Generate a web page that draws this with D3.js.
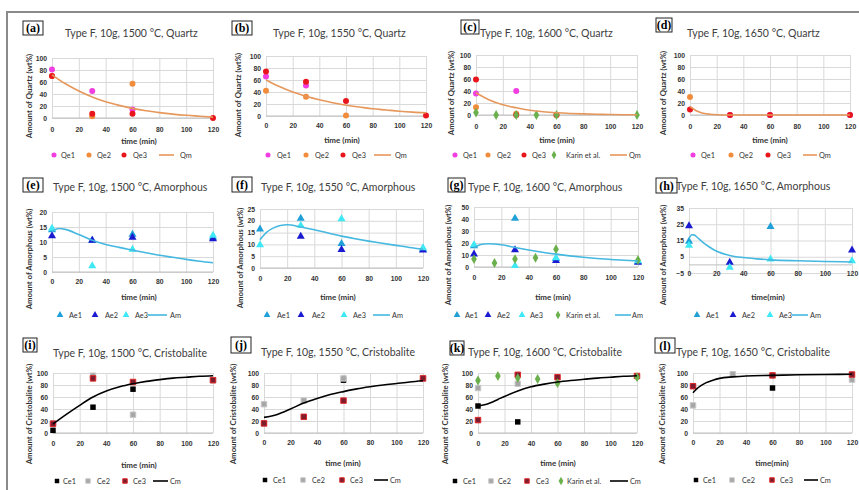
<!DOCTYPE html>
<html>
<head>
<meta charset="utf-8">
<script src="https://cdn.jsdelivr.net/npm/d3@7"></script>
<style>
  body { margin: 0; background: #fff; }
  svg { display: block; font-family: Lato, 'Liberation Sans', sans-serif; }
</style>
</head>
<body>
<script>
var width = 859;
var height = 490;

// x is always time (min)
var xTicks = [0, 20, 40, 60, 80, 100, 120];
var yTicks100 = [0, 20, 40, 60, 80, 100];
var yTicks20 = [0, 5, 10, 15, 20];
var yTicks25 = [0, 5, 10, 15, 20, 25];
var yTicks50 = [0, 10, 20, 30, 40, 50];
var yTicksH = [-5, 5, 15, 25, 35];

// (a) 1500 °C quartz
var aQe1 = [[0, 81], [30, 45], [60, 14]];
var aQe2 = [[0, 70], [30, 3], [60, 57]];
var aQe3 = [[0, 70], [30, 7], [60, 7], [120, 0]];
var aQm = [[0, 72], [10, 57], [20, 45], [30, 35], [40, 27], [50, 21], [60, 16], [70, 12], [80, 9], [90, 6.5], [100, 4.5], [110, 3], [120, 1.5]];

// (b) 1550 °C quartz
var bQe1 = [[0, 66], [30, 51]];
var bQe2 = [[0, 42], [30, 32], [60, 1]];
var bQe3 = [[0, 74], [30, 57], [60, 25], [120, 1]];
var bQm = [[0, 60], [10, 49], [20, 40], [30, 33], [40, 27], [50, 22], [60, 18], [70, 15], [80, 12], [90, 10], [100, 8], [110, 6.5], [120, 5.5]];

// (c) 1600 °C quartz
var cQe1 = [[0, 36], [30, 40]];
var cQe2 = [[0, 13], [30, 2], [60, 0]];
var cQe3 = [[0, 59], [30, 0], [60, 0]];
var cKarin = [[0, 4], [15, 0], [30, 0], [45, 0], [60, 0], [120, 0]];
var cQm = [[0, 37], [10, 25], [20, 17], [30, 12], [40, 8], [50, 5.5], [60, 3.8], [70, 2.6], [80, 1.8], [90, 1.2], [100, 0.8], [110, 0.5], [120, 0.3]];

// (d) 1650 °C quartz
var dQe1 = [[30, 0], [60, 0], [120, 0]];
var dQe2 = [[0, 30]];
var dQe3 = [[0, 9], [30, 0], [60, 0], [120, 0]];
var dQm = [[0, 14], [2, 11], [4, 8], [6, 6], [8, 4.3], [10, 3], [15, 1.3], [20, 0.5], [30, 0.1], [60, 0], [120, 0]];

// (e) 1500 °C amorphous
var eAe1 = [[0, 14], [30, 10.5], [60, 12.5], [120, 11.5]];
var eAe2 = [[0, 12], [30, 10.5], [60, 11.5], [120, 11]];
var eAe3 = [[0, 14.5], [30, 2], [60, 7.5], [120, 12.2]];
var eAm = [[0, 13.5], [5, 14.5], [10, 14.2], [20, 12.5], [30, 10.6], [40, 9.2], [50, 8.2], [60, 7.3], [70, 6.4], [80, 5.6], [90, 4.9], [100, 4.2], [110, 3.6], [120, 3.1]];

// (f) 1550 °C amorphous
var fAe1 = [[0, 16.5], [30, 21], [60, 10.3], [120, 8]];
var fAe2 = [[30, 13.4], [60, 7.8], [120, 7.5]];
var fAe3 = [[0, 9.8], [30, 18], [60, 20.8], [120, 8.5]];
var fAm = [[0, 12], [5, 15.2], [10, 17], [15, 18], [20, 18.3], [30, 17.4], [40, 16.2], [50, 14.8], [60, 13.5], [70, 12.4], [80, 11.4], [90, 10.5], [100, 9.6], [110, 8.7], [120, 8]];

// (g) 1600 °C amorphous
var gAe1 = [[0, 17.6], [30, 40.5], [60, 7], [120, 4.5]];
var gAe2 = [[0, 10.7], [30, 14.3], [60, 5.2], [120, 3.8]];
var gAe3 = [[0, 18.5], [30, 1], [60, 7.5], [120, 5]];
var gKarin = [[0, 6.6], [15, 3.3], [30, 6.6], [45, 7.7], [60, 14.8], [120, 5.8]];
var gAm = [[0, 16.2], [5, 18.8], [10, 19.4], [15, 19.2], [20, 18.5], [30, 16.3], [40, 14.2], [50, 12.3], [60, 10.7], [70, 9.3], [80, 8.1], [90, 7.1], [100, 6.3], [110, 5.6], [120, 5]];

// (h) 1650 °C amorphous
var hAe1 = [[0, 14.5], [60, 23.5]];
var hAe2 = [[0, 24], [30, 1.5], [120, 9]];
var hAe3 = [[0, 12], [30, -1.5], [60, 3.5], [120, 2.5]];
var hAm = [[0, 16], [2, 18.5], [4, 18.3], [6, 17], [10, 14], [15, 11], [20, 8.5], [30, 5.8], [40, 4.5], [50, 3.7], [60, 3.1], [80, 2.5], [100, 2.1], [120, 1.8]];

// (i) 1500 °C cristobalite
var iCe1 = [[0, 4.4], [30, 43], [60, 73]];
var iCe2 = [[0, 16], [30, 95.5], [60, 30.5], [120, 88]];
var iCe3 = [[0, 15.5], [30, 91], [60, 85], [120, 88]];
var iCm = [[0, 15], [10, 31], [20, 46], [30, 60], [40, 70], [50, 77], [60, 82], [70, 86], [80, 89], [90, 91.5], [100, 93], [110, 94.5], [120, 95.5]];

// (j) 1550 °C cristobalite
var jCe1 = [[0, 16], [30, 27], [60, 88]];
var jCe2 = [[0, 48], [30, 54], [60, 91], [120, 91]];
var jCe3 = [[0, 16], [30, 27], [60, 54], [120, 91]];
var jCm = [[0, 26], [10, 31], [20, 40], [30, 50], [40, 57.5], [50, 64], [60, 69], [70, 73.5], [80, 77], [90, 80], [100, 82.5], [110, 85], [120, 87]];

// (k) 1600 °C cristobalite
var kCe1 = [[0, 45], [30, 18.5]];
var kCe2 = [[0, 75], [30, 82]];
var kCe3 = [[0, 21.5], [30, 97], [60, 93], [120, 95]];
var kKarin = [[0, 87.5], [15, 95], [30, 91.5], [45, 90], [60, 83], [120, 93]];
var kCm = [[0, 45], [5, 47], [10, 51], [15, 56], [20, 61], [30, 70], [40, 77], [50, 81.5], [60, 85], [70, 87.5], [80, 89.5], [90, 91.5], [100, 93], [110, 94.5], [120, 95.5]];

// (l) 1650 °C cristobalite
var lCe1 = [[0, 78], [60, 75]];
var lCe2 = [[0, 46], [30, 98], [120, 89]];
var lCe3 = [[0, 78], [60, 96], [120, 97.5]];
var lCm = [[0, 67], [3, 74], [6, 79], [10, 84], [15, 88], [20, 91], [30, 93.5], [40, 95], [60, 96], [80, 97], [100, 97.5], [120, 98]];

var styles = {
  Qe1: {shape: d3.symbolCircle, fill: '#f03ee0'},
  Qe2: {shape: d3.symbolCircle, fill: '#f08c3c'},
  Qe3: {shape: d3.symbolCircle, fill: '#e8161c'},
  Ae1: {shape: d3.symbolTriangle, fill: '#1fa0d8'},
  Ae2: {shape: d3.symbolTriangle, fill: '#1a1ad0'},
  Ae3: {shape: d3.symbolTriangle, fill: '#3ee8f5'},
  Ce1: {shape: d3.symbolSquare, fill: '#000'},
  Ce2: {shape: d3.symbolSquare, fill: '#a6a6a6', stroke: '#c8c8c8'},
  Ce3: {shape: d3.symbolSquare, fill: '#7b1d2e', stroke: '#e02828'},
  Karin: {shape: d3.symbolDiamond, fill: '#6ab04c', label: 'Karin et al.'},
  Qm: {line: '#e6975b'},
  Am: {line: '#45b8e0'},
  Cm: {line: '#000'}
};

var panels = [
  {label: '(a)', box: [23, 21, 20, 14], title: 'Type F, 10g, 1500 °C, Quartz', titleX: 65, titleY: 33,
   px: [52, 213], py: [58, 118], ydom: [0, 100], yticks: yTicks100,
   ytitle: 'Amount of Quartz (wt%)', ytitleX: 29, ytitleY: 96,
   xlabelY: 130, xtitle: 'time (min)', xtitleX: 139, xtitleY: 141, legendY: 155,
   series: [['Qe1', aQe1], ['Qe2', aQe2], ['Qe3', aQe3]], model: ['Qm', aQm],
   legend: [['Qe1', 54, 61], ['Qe2', 89, 97], ['Qe3', 124, 133], ['Qm', 159, 174, 180]]},
  {label: '(b)', box: [232, 21, 20, 14], title: 'Type F, 10g, 1550 °C, Quartz', titleX: 273, titleY: 33,
   px: [266, 426], py: [56, 116], ydom: [0, 100], yticks: yTicks100,
   ytitle: 'Amount of Quartz (wt%)', ytitleX: 238, ytitleY: 95,
   xlabelY: 126, xtitle: 'time (min)', xtitleX: 342, xtitleY: 140, legendY: 155,
   series: [['Qe1', bQe1], ['Qe2', bQe2], ['Qe3', bQe3]], model: ['Qm', bQm],
   legend: [['Qe1', 268, 277], ['Qe2', 306, 315], ['Qe3', 343, 352], ['Qm', 374, 391, 395]]},
  {label: '(c)', box: [461, 20, 18, 14], title: 'Type F, 10g, 1600 °C, Quartz', titleX: 480, titleY: 33,
   px: [476, 637], py: [55, 115], ydom: [0, 100], yticks: yTicks100,
   ytitle: 'Amount of Quartz (wt%)', ytitleX: 451, ytitleY: 93,
   xlabelY: 127, xtitle: 'time (min)', xtitleX: 557, xtitleY: 140, legendY: 155,
   series: [['Qe1', cQe1], ['Qe2', cQe2], ['Qe3', cQe3], ['Karin', cKarin]], model: ['Qm', cQm],
   legend: [['Qe1', 455, 463], ['Qe2', 488, 497], ['Qe3', 524, 532], ['Karin', 554, 566], ['Qm', 610, 627, 629]]},
  {label: '(d)', box: [656, 18, 16, 14], title: 'Type F, 10g, 1650 °C, Quartz', titleX: 687, titleY: 33,
   px: [690, 850], py: [55, 115], ydom: [0, 100], yticks: yTicks100,
   ytitle: 'Amount of Quartz (wt%)', ytitleX: 663, ytitleY: 93,
   xlabelY: 127, xtitle: 'time (min)', xtitleX: 770, xtitleY: 140, legendY: 155,
   series: [['Qe1', dQe1], ['Qe2', dQe2], ['Qe3', dQe3]], model: ['Qm', dQm],
   legend: [['Qe1', 693, 701], ['Qe2', 731, 739], ['Qe3', 768, 777], ['Qm', 803, 817, 819]]},

  {label: '(e)', box: [23, 178, 20, 14], title: 'Type F, 10g, 1500 °C, Amorphous', titleX: 53, titleY: 187,
   px: [52, 213], py: [212, 272], ydom: [0, 20], yticks: yTicks20,
   ytitle: 'Amount of Amorphous (wt%)', ytitleX: 29, ytitleY: 259,
   xlabelY: 282, xtitle: 'time (min)', xtitleX: 139, xtitleY: 297, legendY: 315,
   series: [['Ae1', eAe1], ['Ae2', eAe2], ['Ae3', eAe3]], model: ['Am', eAm],
   legend: [['Ae1', 60, 69], ['Ae2', 95, 105], ['Ae3', 126, 135], ['Am', 148, 167, 170]]},
  {label: '(f)', box: [232, 177, 20, 15], title: 'Type F, 10g, 1550 °C, Amorphous', titleX: 261, titleY: 187,
   px: [260, 423], py: [209, 268], ydom: [0, 25], yticks: yTicks25,
   ytitle: 'Amount of Amorphous (wt%)', ytitleX: 240, ytitleY: 258,
   xlabelY: 279, xtitle: 'time (min)', xtitleX: 338, xtitleY: 297, legendY: 315,
   series: [['Ae1', fAe1], ['Ae2', fAe2], ['Ae3', fAe3]], model: ['Am', fAm],
   legend: [['Ae1', 267, 277], ['Ae2', 301, 312], ['Ae3', 344, 353], ['Am', 373, 390, 392]]},
  {label: '(g)', box: [448, 178, 17, 14], title: 'Type F, 10g, 1600 °C, Amorphous', titleX: 468, titleY: 187,
   px: [474, 638], py: [207, 267], ydom: [0, 50], yticks: yTicks50,
   ytitle: 'Amount of Amorphous (wt%)', ytitleX: 448, ytitleY: 255,
   xlabelY: 278, xtitle: 'time (min)', xtitleX: 553, xtitleY: 297, legendY: 315,
   series: [['Ae1', gAe1], ['Ae2', gAe2], ['Ae3', gAe3], ['Karin', gKarin]], model: ['Am', gAm],
   legend: [['Ae1', 457, 465], ['Ae2', 488, 497], ['Ae3', 522, 530], ['Karin', 558, 566], ['Am', 615, 631, 632]]},
  {label: '(h)', box: [656, 178, 21, 15], title: 'Type F, 10g, 1650 °C, Amorphous', titleX: 676, titleY: 186,
   px: [689, 852], py: [208, 273], ydom: [-5, 35], yticks: yTicksH,
   ytitle: 'Amount of Amorphous (wt%)', ytitleX: 663, ytitleY: 255,
   xlabelY: 274, xtitle: 'time(min)', xtitleX: 768, xtitleY: 297, legendY: 315,
   series: [['Ae1', hAe1], ['Ae2', hAe2], ['Ae3', hAe3]], model: ['Am', hAm],
   legend: [['Ae1', 697, 706], ['Ae2', 733, 742], ['Ae3', 770, 779], ['Am', 792, 808, 810]]},

  {label: '(i)', box: [23, 338, 14, 14], title: 'Type F, 10g, 1500 °C, Cristobalite', titleX: 53, titleY: 353,
   px: [53, 213], py: [373, 433], ydom: [0, 100], yticks: yTicks100,
   ytitle: 'Amount of Cristobalite (wt%)', ytitleX: 29, ytitleY: 414,
   xlabelY: 444, xtitle: 'time (min)', xtitleX: 139, xtitleY: 465, legendY: 481,
   series: [['Ce1', iCe1], ['Ce2', iCe2], ['Ce3', iCe3]], model: ['Cm', iCm],
   legend: [['Ce1', 57, 63], ['Ce2', 88, 97], ['Ce3', 125, 133], ['Cm', 153, 168, 170]]},
  {label: '(j)', box: [231, 337, 20, 16], title: 'Type F, 10g, 1550 °C, Cristobalite', titleX: 261, titleY: 352,
   px: [264, 423], py: [373, 433], ydom: [0, 100], yticks: yTicks100,
   ytitle: 'Amount of Cristobalite (wt%)', ytitleX: 233, ytitleY: 414,
   xlabelY: 443, xtitle: 'time (min)', xtitleX: 343, xtitleY: 463, legendY: 480,
   series: [['Ce1', jCe1], ['Ce2', jCe2], ['Ce3', jCe3]], model: ['Cm', jCm],
   legend: [['Ce1', 265, 273], ['Ce2', 303, 312], ['Ce3', 342, 350], ['Cm', 374, 388, 390]]},
  {label: '(k)', box: [450, 341, 14, 14], title: 'Type F, 10g, 1600 °C, Cristobalite', titleX: 468, titleY: 352,
   px: [478, 637], py: [373, 433], ydom: [0, 100], yticks: yTicks100,
   ytitle: 'Amount of Cristobalite (wt%)', ytitleX: 445, ytitleY: 414,
   xlabelY: 444, xtitle: 'time (min)', xtitleX: 558, xtitleY: 463, legendY: 481,
   series: [['Ce1', kCe1], ['Ce2', kCe2], ['Ce3', kCe3], ['Karin', kKarin]], model: ['Cm', kCm],
   legend: [['Ce1', 455, 463], ['Ce2', 491, 498], ['Ce3', 527, 536], ['Karin', 561, 567], ['Cm', 610, 628, 630]]},
  {label: '(l)', box: [655, 338, 20, 15], title: 'Type F, 10g, 1650 °C, Cristobalite', titleX: 676, titleY: 352,
   px: [693, 852], py: [373, 433], ydom: [0, 100], yticks: yTicks100,
   ytitle: 'Amount of Cristobalite (wt%)', ytitleX: 662, ytitleY: 414,
   xlabelY: 443, xtitle: 'time(min)', xtitleX: 772, xtitleY: 463, legendY: 480,
   series: [['Ce1', lCe1], ['Ce2', lCe2], ['Ce3', lCe3]], model: ['Cm', lCm],
   legend: [['Ce1', 696, 703], ['Ce2', 732, 742], ['Ce3', 772, 780], ['Cm', 804, 818, 820]]}
];

var svg = d3.select('body').append('svg')
  .attr('width', width)
  .attr('height', height);

// outer frame of the figure
svg.append('path')
  .attr('d', 'M7,' + height + 'V12H' + width)
  .attr('fill', 'none')
  .attr('stroke', '#8a8a8a')
  .attr('stroke-width', 2);

panels.forEach(drawPanel);

function drawPanel(p) {
  var x = d3.scaleLinear().domain([0, 120]).range(p.px);
  var y = d3.scaleLinear().domain(p.ydom).range([p.py[1], p.py[0]]);
  var g = svg.append('g');
  var tickFont = 6.8;

  // horizontal grid + y labels
  var yAxis = g.append('g')
    .attr('transform', 'translate(' + p.px[0] + ',0)')
    .call(d3.axisLeft(y).tickValues(p.yticks).tickSize(-(p.px[1] - p.px[0])).tickPadding(5));
  yAxis.select('.domain').remove();
  yAxis.selectAll('line').attr('stroke', '#d9d9d9');
  yAxis.selectAll('text')
    .style('font-size', tickFont + 'px')
    .style('font-weight', 'bold')
    .attr('fill', '#333');

  // vertical grid + x labels
  var xAxis = g.append('g')
    .attr('transform', 'translate(0,' + p.py[1] + ')')
    .call(d3.axisBottom(x).tickValues(xTicks).tickSize(-(p.py[1] - p.py[0]))
      .tickPadding(p.xlabelY - p.py[1] - 0.36 * tickFont));
  xAxis.select('.domain').remove();
  xAxis.selectAll('line').attr('stroke', '#d9d9d9');
  xAxis.selectAll('text')
    .style('font-size', tickFont + 'px')
    .style('font-weight', 'bold')
    .attr('fill', '#333');

  // axis line at zero
  g.append('line')
    .attr('x1', p.px[0]).attr('x2', p.px[1])
    .attr('y1', y(0)).attr('y2', y(0))
    .attr('stroke', '#bfbfbf');

  // panel letter
  g.append('rect')
    .attr('x', p.box[0]).attr('y', p.box[1])
    .attr('width', p.box[2]).attr('height', p.box[3])
    .attr('fill', '#fff')
    .attr('stroke', '#222');
  g.append('text')
    .attr('x', p.box[0] + p.box[2] / 2)
    .attr('y', p.box[1] + p.box[3] / 2)
    .attr('dy', '0.36em')
    .style('text-anchor', 'middle')
    .style('font-family', "'Liberation Serif', 'DejaVu Serif', serif")
    .style('font-weight', 'bold')
    .style('font-size', '12px')
    .text(p.label);

  g.append('text')
    .attr('x', p.titleX)
    .attr('y', p.titleY)
    .attr('dy', '0.35em')
    .style('font-size', '10.5px')
    .attr('fill', '#404040')
    .text(p.title);

  g.append('text')
    .attr('transform', 'rotate(-90)')
    .attr('x', -p.ytitleY)
    .attr('y', p.ytitleX)
    .attr('dy', '0.35em')
    .style('text-anchor', 'middle')
    .style('font-size', '7.8px')
    .style('font-weight', 'bold')
    .attr('fill', '#333')
    .text(p.ytitle);

  g.append('text')
    .attr('x', p.xtitleX)
    .attr('y', p.xtitleY)
    .attr('dy', '0.35em')
    .style('text-anchor', 'middle')
    .style('font-size', '8px')
    .style('font-weight', 'bold')
    .attr('fill', '#333')
    .text(p.xtitle);

  // measured points
  p.series.forEach(function(s) {
    var st = styles[s[0]];
    g.selectAll(null)
      .data(s[1])
      .enter()
      .append('path')
      .attr('transform', d => 'translate(' + x(d[0]) + ',' + y(d[1]) + ')')
      .attr('d', d3.symbol().type(st.shape).size(st.shape === d3.symbolSquare ? 30 : 28))
      .attr('fill', st.fill)
      .attr('stroke', st.stroke || 'none')
      .attr('stroke-width', 1);
  });

  // model curve
  var m = styles[p.model[0]];
  g.append('path')
    .datum(p.model[1])
    .attr('d', d3.line().x(d => x(d[0])).y(d => y(d[1])).curve(d3.curveMonotoneX))
    .attr('fill', 'none')
    .attr('stroke', m.line)
    .attr('stroke-width', 1.6);

  // legend
  p.legend.forEach(function(item) {
    var st = styles[item[0]];
    var textX;
    if (st.line) {
      g.append('line')
        .attr('x1', item[1]).attr('x2', item[2])
        .attr('y1', p.legendY).attr('y2', p.legendY)
        .attr('stroke', st.line)
        .attr('stroke-width', 1.6);
      textX = item[3];
    } else {
      g.append('path')
        .attr('transform', 'translate(' + item[1] + ',' + p.legendY + ')')
        .attr('d', d3.symbol().type(st.shape).size(20))
        .attr('fill', st.fill)
        .attr('stroke', st.stroke || 'none');
      textX = item[2];
    }
    g.append('text')
      .attr('x', textX)
      .attr('y', p.legendY)
      .attr('dy', '0.35em')
      .style('font-size', '7.3px')
      .attr('fill', '#333')
      .text(st.label || item[0]);
  });
}
</script>
</body>
</html>
